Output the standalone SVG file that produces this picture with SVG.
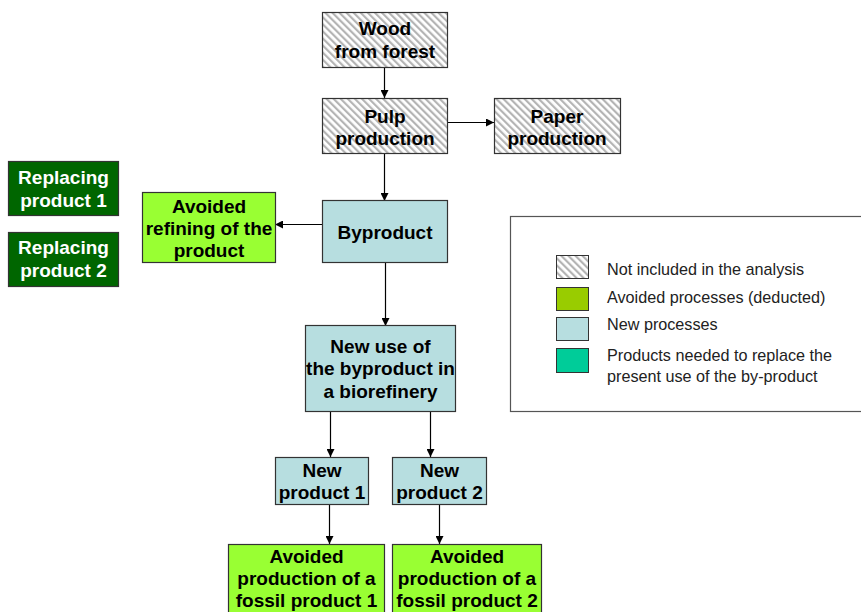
<svg xmlns="http://www.w3.org/2000/svg" width="861" height="612" viewBox="0 0 861 612">
<defs>
<pattern id="hatch" patternUnits="userSpaceOnUse" width="5" height="5" patternTransform="rotate(-45)">
<rect width="5" height="5" fill="#ffffff"/>
<rect x="0" y="0" width="2.2" height="5" fill="#b4b4b4"/>
</pattern>
<marker id="arr" viewBox="0 0 10 10" refX="10" refY="5" markerWidth="8" markerHeight="8" markerUnits="userSpaceOnUse" orient="auto">
<path d="M0,0 L10,5 L0,10 z" fill="#000"/>
</marker>
<style>
.box{stroke:#333;stroke-width:1.2}
.hat{fill:url(#hatch)}
.blue{fill:#b7dee0}
.lg{fill:#99ff33}
.dg{fill:#006600}
.t{font-family:"Liberation Sans",Arial,sans-serif;font-weight:bold;font-size:19px;text-anchor:middle;fill:#000}
.w{fill:#fff}
.leg{font-family:"Liberation Sans",Arial,sans-serif;font-size:16.2px;fill:#222}
.c{stroke:#000;stroke-width:1.2;fill:none}
</style>
</defs>
<rect width="861" height="612" fill="#fff"/>

<g id="legend">
<rect x="510.5" y="216.5" width="360" height="195" fill="#fff" stroke="#555" stroke-width="1.2"/>
<rect x="556.5" y="255.5" width="32" height="23" class="hat" stroke="#333"/>
<rect x="556.5" y="287.5" width="32" height="23" fill="#99cc00" stroke="#333"/>
<rect x="556.5" y="317.5" width="32" height="23" fill="#b7dee0" stroke="#333"/>
<rect x="556.5" y="348.5" width="32" height="24" fill="#00cc99" stroke="#333"/>
<text class="leg" x="607" y="275">Not included in the analysis</text>
<text class="leg" x="607" y="303">Avoided processes (deducted)</text>
<text class="leg" x="607" y="330">New processes</text>
<text class="leg" x="607" y="361">Products needed to replace the</text>
<text class="leg" x="607" y="382">present use of the by-product</text>
</g>

<g id="connectors">
<line class="c" x1="384.5" y1="67" x2="384.5" y2="98" marker-end="url(#arr)"/>
<line class="c" x1="447" y1="122.5" x2="494" y2="122.5" marker-end="url(#arr)"/>
<line class="c" x1="384.5" y1="153" x2="384.5" y2="201" marker-end="url(#arr)"/>
<line class="c" x1="322" y1="224.5" x2="275" y2="224.5" marker-end="url(#arr)"/>
<line class="c" x1="385.5" y1="263" x2="385.5" y2="326" marker-end="url(#arr)"/>
<line class="c" x1="330.5" y1="412" x2="330.5" y2="457" marker-end="url(#arr)"/>
<line class="c" x1="430.5" y1="412" x2="430.5" y2="457" marker-end="url(#arr)"/>
<line class="c" x1="329.5" y1="504" x2="329.5" y2="544" marker-end="url(#arr)"/>
<line class="c" x1="439.5" y1="504" x2="439.5" y2="544" marker-end="url(#arr)"/>
</g>

<g id="wood">
<rect class="box hat" x="322.5" y="12.5" width="125" height="55"/>
<text class="t" x="385" y="35">Wood</text>
<text class="t" x="385" y="58">from forest</text>
</g>
<g id="pulp">
<rect class="box hat" x="322.5" y="98.5" width="125" height="55"/>
<text class="t" x="385" y="123">Pulp</text>
<text class="t" x="385" y="145">production</text>
</g>
<g id="paper">
<rect class="box hat" x="494.5" y="98.5" width="126" height="55"/>
<text class="t" x="557" y="123">Paper</text>
<text class="t" x="557" y="145">production</text>
</g>
<g id="replacing1">
<rect class="box dg" x="8.5" y="161.5" width="110" height="54"/>
<text class="t w" x="63.5" y="184">Replacing</text>
<text class="t w" x="63.5" y="207">product 1</text>
</g>
<g id="replacing2">
<rect class="box dg" x="8.5" y="232.5" width="110" height="54"/>
<text class="t w" x="63.5" y="254">Replacing</text>
<text class="t w" x="63.5" y="277">product 2</text>
</g>
<g id="refining">
<rect class="box lg" x="142.5" y="192.5" width="133" height="70"/>
<text class="t" x="209" y="213">Avoided</text>
<text class="t" x="209" y="235">refining of the</text>
<text class="t" x="209" y="257">product</text>
</g>
<g id="byproduct">
<rect class="box blue" x="322.5" y="200.5" width="125" height="62"/>
<text class="t" x="385" y="239">Byproduct</text>
</g>
<g id="newuse">
<rect class="box blue" x="305.5" y="325.5" width="150" height="86"/>
<text class="t" x="380.5" y="353">New use of</text>
<text class="t" x="380.5" y="375">the byproduct in</text>
<text class="t" x="380.5" y="398">a biorefinery</text>
</g>
<g id="newproduct1">
<rect class="box blue" x="275.5" y="457.5" width="93" height="47"/>
<text class="t" x="322" y="477">New</text>
<text class="t" x="322" y="499">product 1</text>
</g>
<g id="newproduct2">
<rect class="box blue" x="392.5" y="457.5" width="94" height="47"/>
<text class="t" x="439.5" y="477">New</text>
<text class="t" x="439.5" y="499">product 2</text>
</g>
<g id="avoided1">
<rect class="box lg" x="228.5" y="544.5" width="156" height="75"/>
<text class="t" x="306.5" y="563">Avoided</text>
<text class="t" x="306.5" y="585">production of a</text>
<text class="t" x="306.5" y="607">fossil product 1</text>
</g>
<g id="avoided2">
<rect class="box lg" x="392.5" y="544.5" width="149" height="75"/>
<text class="t" x="467" y="563">Avoided</text>
<text class="t" x="467" y="585">production of a</text>
<text class="t" x="467" y="607">fossil product 2</text>
</g>
</svg>
